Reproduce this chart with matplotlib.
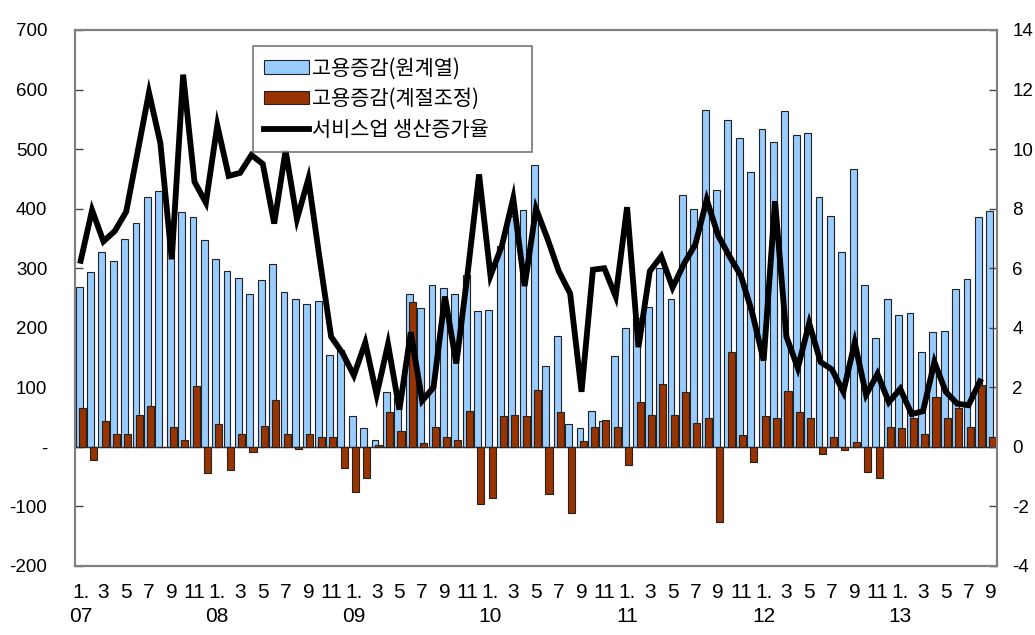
import matplotlib
matplotlib.use("Agg")
import matplotlib.pyplot as plt
import numpy as np
from matplotlib.patches import Patch
from matplotlib.lines import Line2D
from matplotlib import font_manager

# ---- data (Jan 2007 .. Sep 2013, monthly) ----
employment_raw = [268, 293, 327, 312, 349, 376, 420, 430, 380, 394, 386, 347,
                  316, 295, 284, 257, 280, 307, 260, 249, 240, 245, 154, 163,
                  52, 31, 12, 92, 83, 257, 234, 271, 267, 257, 288, 228,
                  230, 338, 388, 398, 473, 135, 187, 39, 31, 60, 44, 152,
                  199, 216, 235, 301, 249, 423, 400, 566, 431, 549, 519, 461,
                  533, 512, 564, 524, 527, 420, 388, 328, 466, 271, 183, 249,
                  222, 224, 159, 193, 195, 265, 282, 386, 396]
employment_sa = [65, -22, 44, 21, 21, 54, 69, 0, 34, 11, 102, -44,
                 39, -39, 21, -8, 35, 79, 22, -4, 22, 16, 16, -35,
                 -75, -52, 4, 58, 27, 243, 6, 33, 16, 12, 60, -96,
                 -85, 52, 53, 52, 96, -79, 58, -111, 10, 33, 45, 33,
                 -31, 75, 53, 106, 53, 93, 40, 48, -126, 159, 20, -25,
                 52, 48, 94, 58, 48, -12, 16, -6, 8, -42, -52, 33,
                 31, 48, 21, 83, 48, 65, 33, 104, 16]
service_growth = [6.25, 7.95, 6.9, 7.25, 7.9, 9.9, 11.9, 10.2, 6.3, 12.5, 8.9, 8.2,
                  10.8, 9.1, 9.2, 9.8, 9.5, 7.5, 9.95, 7.65, 9.0, 6.3, 3.7, 3.15,
                  2.4, 3.5, 1.75, 3.45, 1.25, 3.85, 1.55, 2.0, 5.05, 2.8, 5.85, 9.15,
                  5.75, 6.75, 8.35, 5.4, 8.0, 7.0, 5.9, 5.15, 1.85, 5.95, 6.0, 5.05,
                  8.05, 3.35, 5.9, 6.4, 5.35, 6.15, 6.8, 8.3, 7.1, 6.4, 5.75, 4.5,
                  2.9, 8.25, 3.7, 2.65, 4.15, 2.85, 2.6, 1.85, 3.5, 1.75, 2.45, 1.5,
                  1.95, 1.1, 1.2, 2.85, 1.85, 1.45, 1.4, 2.2]
month_labels = ["1.", "3", "5", "7", "9", "11"]
year_labels = ["07", "08", "09", "10", "11", "12", "13"]
left_ticks = [-200, -100, 0, 100, 200, 300, 400, 500, 600, 700]
left_tick_labels = ["-200", "-100", "-", "100", "200", "300", "400", "500", "600", "700"]
right_ticks = [-4, -2, 0, 2, 4, 6, 8, 10, 12, 14]
legend_labels = ["고용증감(원계열)", "고용증감(계절조정)", "서비스업 생산증가율"]

# ---- fonts ----
avail = {f.name for f in font_manager.fontManager.ttflist}
narrow = "Liberation Sans Narrow" if "Liberation Sans Narrow" in avail else "Liberation Sans"
kfont = ["Noto Sans CJK KR", "DejaVu Sans"]

BLUE = "#99ccff"
RED = "#993300"
SPINE = "#808080"

n = len(employment_raw)
x = np.arange(n)

fig = plt.figure(figsize=(10.35, 6.35), dpi=100)
ax = fig.add_axes([75/1035, 1-566/635, (997-75)/1035, (566-30)/635])
ax.set_zorder(1)
ax.patch.set_visible(False)

ax.bar(x - 0.14, employment_raw, width=0.6, color=BLUE, edgecolor="#222222",
       linewidth=0.8, zorder=2)
ax.bar(x + 0.14, employment_sa, width=0.62, color=RED, edgecolor="#222222",
       linewidth=0.8, zorder=3)
ax.axhline(0, color="#333333", linewidth=1.0, zorder=2.5)

ax2 = ax.twinx()
ax2.set_zorder(2)
ax2.plot(x[:len(service_growth)], service_growth, color="black", linewidth=4.2,
         solid_joinstyle="miter", zorder=5)

ax.set_xlim(-0.5, n - 0.5)
ax.set_ylim(-200, 700)
ax2.set_ylim(-4, 14)

ax.set_yticks(left_ticks)
ax.set_yticklabels(left_tick_labels)
ax2.set_yticks(right_ticks)
ax2.set_yticklabels([str(v) for v in right_ticks])

for a in (ax, ax2):
    for s in a.spines.values():
        s.set_color(SPINE)
        s.set_linewidth(1.5)

ax.tick_params(axis="y", direction="in", length=6, width=1, color="#444444",
               pad=20, labelsize=13.5, labelfontfamily="Liberation Sans")
ax2.tick_params(axis="y", direction="in", length=6, width=1, color="#444444",
                pad=11, labelsize=13.5, labelfontfamily="Liberation Sans")

xt = x[::2]
ax.set_xticks(xt)
ax.set_xticklabels([month_labels[i % 6] for i in range(len(xt))])
ax.tick_params(axis="x", length=0, pad=12, labelsize=15, labelfontfamily=narrow)

for k, yl in enumerate(year_labels):
    ax.annotate(yl, xy=(12 * k, 0), xycoords=("data", "axes fraction"),
                xytext=(0, -51), textcoords="offset pixels", ha="center",
                va="center", fontsize=15, family=narrow)

handles = [Patch(facecolor=BLUE, edgecolor="#222222", linewidth=0.8),
           Patch(facecolor=RED, edgecolor="#222222", linewidth=0.8),
           Line2D([0], [0], color="black", linewidth=4.2)]
leg = ax2.legend(handles, legend_labels, loc="upper left",
                 bbox_to_anchor=((253-75)/922, (566-140)/536,
                                 (532-253)/922, (140-46)/536),
                 mode="expand",
                 frameon=True, fancybox=False, edgecolor="#555555",
                 prop={"family": kfont, "size": 15},
                 handlelength=2.15, handleheight=0.6, handletextpad=0.15,
                 labelspacing=0.42, borderpad=0.55, borderaxespad=0)
leg.get_frame().set_linewidth(1.2)
leg.set_zorder(10)

fig.savefig("out.png", dpi=100)
